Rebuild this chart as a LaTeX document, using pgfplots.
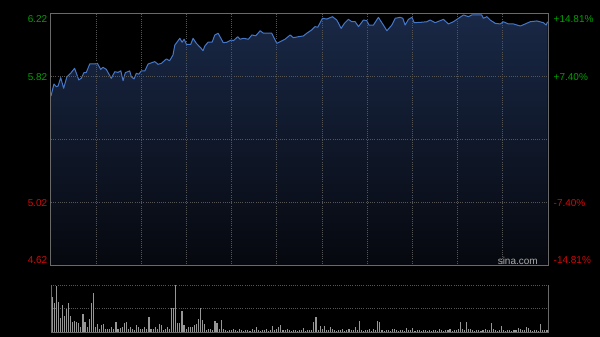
\documentclass[border=0pt]{standalone}
\usepackage{pgfplots}
\pgfplotsset{compat=1.18}
\usepackage{fontspec}
\setmainfont{Liberation Sans}
\definecolor{cgreen}{RGB}{0,160,0}
\definecolor{cred}{RGB}{210,10,10}
\definecolor{cline}{RGB}{70,118,200}
\definecolor{cfilltop}{RGB}{25,40,70}
\definecolor{cfillbot}{RGB}{6,8,14}
\definecolor{cgrid}{RGB}{85,85,85}
\definecolor{cframe}{RGB}{105,105,105}
\definecolor{cvol}{RGB}{150,150,150}
\begin{document}
\begin{tikzpicture}[x=1pt,y=1pt]
\fill[black] (0,0) rectangle (600,337);
\useasboundingbox (0,0) rectangle (600,337);
\begin{axis}[
  at={(51pt,71pt)}, anchor=south west,
  scale only axis, width=497pt, height=252.3pt,
  xmin=0, xmax=240, ymin=4.62, ymax=6.22,
  axis on top,
  axis line style={draw=cframe, line width=1pt},
  xtick={21.82,43.64,65.45,87.27,109.09,130.91,152.73,174.55,196.36,218.18},
  ytick={5.02,5.42,5.82},
  xticklabels={}, yticklabels={},
  major tick length=0pt,
  grid=major,
  major grid style={draw=cgrid, line width=0.9pt, dash pattern=on 1pt off 1.2pt},
  clip=false,
]
\addplot[draw=none, top color=cfilltop, bottom color=cfillbot] coordinates {
(0,4.62) (0,5.698) (1.4,5.774) (2.6,5.757) (3.4,5.761) (4.7,5.814) (6.1,5.747) (7.7,5.820) (9.5,5.842) (11.4,5.874) (13.4,5.800) (14.6,5.810) (15.9,5.846) (17,5.846) (18.7,5.901) (21.1,5.901) (22.4,5.905) (24,5.867) (25.1,5.880) (26.7,5.867) (29.1,5.810) (30.8,5.852) (32.4,5.848) (33.7,5.858) (34.8,5.795) (35.9,5.846) (38,5.857) (38.8,5.820) (40.1,5.806) (41.2,5.842) (42.4,5.836) (43.6,5.857) (45.3,5.857) (46.9,5.901) (50.1,5.916) (51.7,5.899) (53.3,5.905) (55.7,5.933) (57.3,5.922) (58.9,5.958) (59.8,6.021) (62.2,6.064) (63.3,6.039) (64.3,6.058) (65.4,6.026) (67.5,6.026) (68.6,6.064) (70.2,6.032) (72.6,5.999) (73.4,5.985) (74.3,6.015) (75.8,6.039) (77.8,6.039) (79.1,6.085) (80.7,6.096) (83.2,6.036) (84.9,6.039) (87,6.053) (88.1,6.049) (90.2,6.074) (91.3,6.058) (92.9,6.064) (95.3,6.058) (97,6.085) (98.9,6.080) (101,6.112) (102.6,6.096) (106.6,6.096) (109,6.032) (110.6,6.042) (113,6.058) (115.5,6.085) (117,6.068) (119.5,6.074) (121.9,6.079) (123.5,6.096) (125.9,6.117) (127.5,6.138) (128.8,6.134) (131.1,6.191) (133.2,6.186) (135.9,6.201) (138,6.180) (140.1,6.127) (141.7,6.159) (143.6,6.184) (145.3,6.169) (146.9,6.169) (148.5,6.138) (150.9,6.180) (152.5,6.176) (153.6,6.148) (155.7,6.148) (158.1,6.197) (160.5,6.148) (162.2,6.112) (164.6,6.148) (166.2,6.191) (168.6,6.197) (169.9,6.191) (171,6.148) (172.6,6.184) (174.3,6.197) (175.4,6.163) (178.3,6.165) (181.5,6.169) (183.1,6.180) (185.5,6.163) (189.5,6.184) (191.9,6.155) (194.3,6.169) (196.8,6.191) (199.2,6.212) (201.6,6.201) (203.2,6.212) (206.4,6.212) (208,6.212) (208.8,6.191) (210.5,6.201) (212.1,6.180) (214.5,6.159) (216.9,6.155) (218.5,6.169) (220.9,6.155) (223.3,6.155) (226.6,6.142) (229,6.155) (231.4,6.169) (234.6,6.174) (237.8,6.163) (239.1,6.148) (239.8,6.169) (239.8,4.62)
} -- cycle;
\addplot[cline, line width=1pt, line join=round] coordinates {
(0,5.698) (1.4,5.774) (2.6,5.757) (3.4,5.761) (4.7,5.814) (6.1,5.747) (7.7,5.820) (9.5,5.842) (11.4,5.874) (13.4,5.800) (14.6,5.810) (15.9,5.846) (17,5.846) (18.7,5.901) (21.1,5.901) (22.4,5.905) (24,5.867) (25.1,5.880) (26.7,5.867) (29.1,5.810) (30.8,5.852) (32.4,5.848) (33.7,5.858) (34.8,5.795) (35.9,5.846) (38,5.857) (38.8,5.820) (40.1,5.806) (41.2,5.842) (42.4,5.836) (43.6,5.857) (45.3,5.857) (46.9,5.901) (50.1,5.916) (51.7,5.899) (53.3,5.905) (55.7,5.933) (57.3,5.922) (58.9,5.958) (59.8,6.021) (62.2,6.064) (63.3,6.039) (64.3,6.058) (65.4,6.026) (67.5,6.026) (68.6,6.064) (70.2,6.032) (72.6,5.999) (73.4,5.985) (74.3,6.015) (75.8,6.039) (77.8,6.039) (79.1,6.085) (80.7,6.096) (83.2,6.036) (84.9,6.039) (87,6.053) (88.1,6.049) (90.2,6.074) (91.3,6.058) (92.9,6.064) (95.3,6.058) (97,6.085) (98.9,6.080) (101,6.112) (102.6,6.096) (106.6,6.096) (109,6.032) (110.6,6.042) (113,6.058) (115.5,6.085) (117,6.068) (119.5,6.074) (121.9,6.079) (123.5,6.096) (125.9,6.117) (127.5,6.138) (128.8,6.134) (131.1,6.191) (133.2,6.186) (135.9,6.201) (138,6.180) (140.1,6.127) (141.7,6.159) (143.6,6.184) (145.3,6.169) (146.9,6.169) (148.5,6.138) (150.9,6.180) (152.5,6.176) (153.6,6.148) (155.7,6.148) (158.1,6.197) (160.5,6.148) (162.2,6.112) (164.6,6.148) (166.2,6.191) (168.6,6.197) (169.9,6.191) (171,6.148) (172.6,6.184) (174.3,6.197) (175.4,6.163) (178.3,6.165) (181.5,6.169) (183.1,6.180) (185.5,6.163) (189.5,6.184) (191.9,6.155) (194.3,6.169) (196.8,6.191) (199.2,6.212) (201.6,6.201) (203.2,6.212) (206.4,6.212) (208,6.212) (208.8,6.191) (210.5,6.201) (212.1,6.180) (214.5,6.159) (216.9,6.155) (218.5,6.169) (220.9,6.155) (223.3,6.155) (226.6,6.142) (229,6.155) (231.4,6.169) (234.6,6.174) (237.8,6.163) (239.1,6.148) (239.8,6.169)
};
\begin{scope}[every node/.style={font=\fontsize{10}{11}\selectfont, inner sep=0pt}]
\node[anchor=east, text=cgreen] at (axis cs:0,6.22) [xshift=-3.5pt, yshift=-5pt] {6.22};
\node[anchor=east, text=cgreen] at (axis cs:0,5.82) [xshift=-3.5pt] {5.82};
\node[anchor=east, text=cred] at (axis cs:0,5.02) [xshift=-3.5pt] {5.02};
\node[anchor=east, text=cred] at (axis cs:0,4.62) [xshift=-3.5pt, yshift=6pt] {4.62};
\node[anchor=west, text=cgreen] at (axis cs:240,6.22) [xshift=5.5pt, yshift=-5pt] {+14.81\%};
\node[anchor=west, text=cgreen] at (axis cs:240,5.82) [xshift=5.5pt] {+7.40\%};
\node[anchor=west, text=cred] at (axis cs:240,5.02) [xshift=5.5pt] {-7.40\%};
\node[anchor=west, text=cred] at (axis cs:240,4.62) [xshift=5.5pt, yshift=6pt] {-14.81\%};
\node[text={rgb,255:red,170;green,170;blue,170}] at (axis cs:225.4,4.652) {sina.com};
\end{scope}
\end{axis}
\begin{axis}[
  at={(51pt,4.7pt)}, anchor=south west,
  scale only axis, width=497pt, height=47pt,
  xmin=-0.5, xmax=240.5, ymin=0, ymax=100,
  axis lines=none,
  clip=false,
]
\draw[cgrid, line width=0.9pt, dash pattern=on 1pt off 1.2pt] (rel axis cs:0,1) -- (rel axis cs:1,1);
\draw[cgrid, line width=0.9pt, dash pattern=on 1pt off 1.2pt] (rel axis cs:0,0.5) -- (rel axis cs:1,0.5);
\addplot[ycomb, cvol, line width=1.1pt] coordinates {
(0,76) (1,62) (2,99) (3,65) (4,30) (5,58) (6,35) (7,50) (8,62) (9,35) (10,22) (11,24) (12,22) (13,20) (14,12) (15,39) (16,22) (17,12) (18,28) (19,63) (20,83) (21,12) (22,17) (23,8) (24,15) (25,18) (26,8) (27,6) (28,8) (29,12) (30,8) (31,22) (32,6) (33,10) (34,12) (35,20) (36,21) (37,8) (38,12) (39,8) (40,5) (41,15) (42,12) (43,8) (44,8) (45,12) (46,8) (47,32) (48,8) (49,6) (50,12) (51,8) (52,18) (53,15) (54,5) (55,8) (56,12) (57,8) (58,51) (59,51) (60,100) (61,19) (62,19) (63,46) (64,15) (65,8) (66,12) (67,12) (68,12) (69,15) (70,17) (71,28) (72,51) (73,26) (74,17) (75,5) (76,6) (77,8) (78,5) (79,23) (80,20) (81,8) (82,26) (83,8) (84,4) (85,3) (86,5) (87,4) (88,6) (89,5) (90,3) (91,7) (92,4) (93,3) (94,5) (95,4) (96,3) (97,6) (98,4) (99,12) (100,4) (101,3) (102,5) (103,4) (104,8) (105,3) (106,5) (107,14) (108,4) (109,6) (110,12) (111,16) (112,4) (113,5) (114,8) (115,4) (116,3) (117,5) (118,4) (119,3) (120,4) (121,5) (122,10) (123,3) (124,4) (125,5) (126,4) (127,21) (128,33) (129,5) (130,14) (131,6) (132,14) (133,4) (134,5) (135,12) (136,8) (137,4) (138,3) (139,5) (140,4) (141,6) (142,3) (143,4) (144,6) (145,5) (146,4) (147,12) (148,5) (149,24) (150,4) (151,3) (152,5) (153,4) (154,6) (155,3) (156,6) (157,4) (158,23) (159,21) (160,4) (161,3) (162,5) (163,4) (164,3) (165,8) (166,8) (167,4) (168,3) (169,5) (170,4) (171,3) (172,10) (173,4) (174,5) (175,10) (176,3) (177,4) (178,5) (179,3) (180,4) (181,5) (182,3) (183,4) (184,3) (185,5) (186,4) (187,3) (188,6) (189,4) (190,3) (191,5) (192,4) (193,6) (194,3) (195,4) (196,5) (197,8) (198,21) (199,6) (200,5) (201,21) (202,8) (203,8) (204,4) (205,3) (206,5) (207,4) (208,3) (209,5) (210,8) (211,4) (212,5) (213,19) (214,8) (215,4) (216,3) (217,5) (218,13) (219,4) (220,3) (221,5) (222,4) (223,3) (224,5) (225,4) (226,10) (227,8) (228,4) (229,5) (230,12) (231,10) (232,4) (233,3) (234,5) (235,4) (236,3) (237,17) (238,4) (239,5) (240,5)
};
\draw[cframe, line width=1pt] (rel axis cs:0,1) -- (rel axis cs:0,0) -- (rel axis cs:1,0) -- (rel axis cs:1,1);
\end{axis}
\end{tikzpicture}
\end{document}
